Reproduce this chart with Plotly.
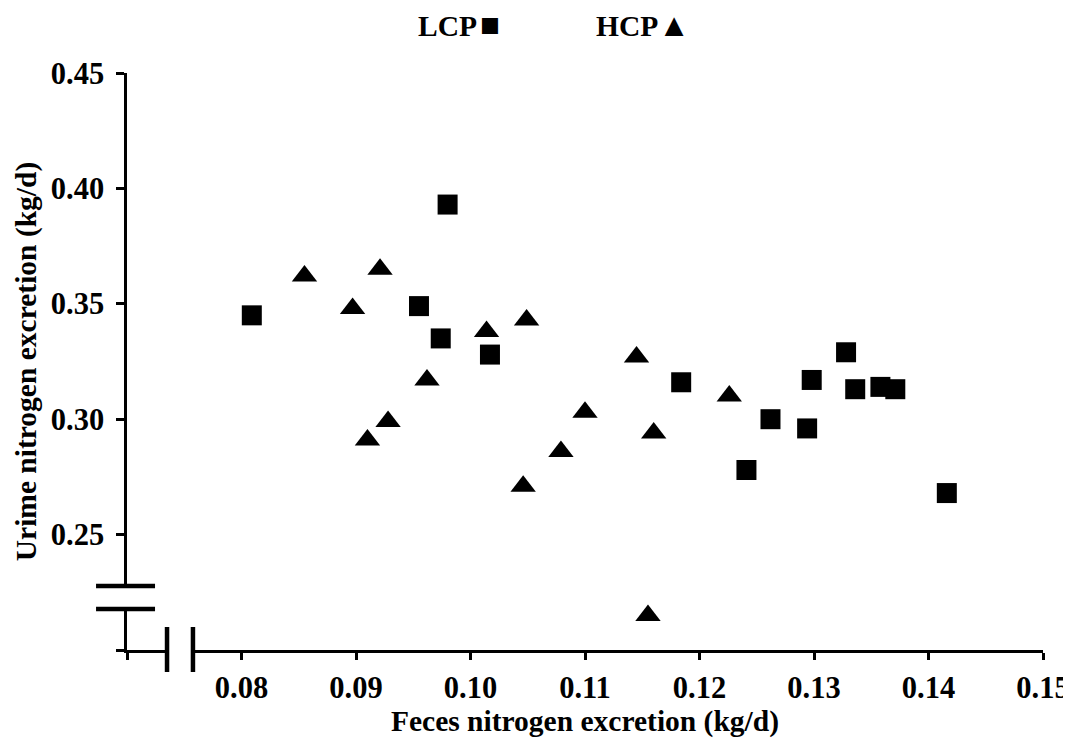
import plotly.graph_objects as go

# LCP (squares)
lcp_x = [0.0809, 0.0955, 0.0974, 0.0980, 0.1017, 0.1184, 0.1241, 0.1262, 0.1294,
         0.1298, 0.1328, 0.1336, 0.1358, 0.1371, 0.1416]
lcp_y = [0.345, 0.349, 0.335, 0.393, 0.328, 0.316, 0.278, 0.300, 0.296,
         0.317, 0.329, 0.313, 0.314, 0.313, 0.268]

# HCP (triangles)
hcp_x = [0.0855, 0.0897, 0.0910, 0.0921, 0.0928, 0.0962, 0.1014, 0.1046, 0.1049,
         0.1079, 0.1100, 0.1145, 0.1155, 0.1160, 0.1226]
hcp_y = [0.362, 0.348, 0.291, 0.365, 0.299, 0.317, 0.338, 0.271, 0.343,
         0.286, 0.303, 0.327, 0.215, 0.294, 0.310]

x_ticks = [0.07, 0.08, 0.09, 0.10, 0.11, 0.12, 0.13, 0.14, 0.15]
x_ticktext = ["", "0.08", "0.09", "0.10", "0.11", "0.12", "0.13", "0.14", "0.15"]
y_ticks = [0.20, 0.25, 0.30, 0.35, 0.40, 0.45]
y_ticktext = ["", "0.25", "0.30", "0.35", "0.40", "0.45"]

FONT = "Liberation Serif, Times New Roman, serif"
FS = 30.5
TFS = 29.5

fig = go.Figure()
fig.add_trace(go.Scatter(x=lcp_x, y=lcp_y, mode="markers", name="LCP",
                         marker=dict(symbol="square", size=20, color="black")))
fig.add_trace(go.Scatter(x=hcp_x, y=hcp_y, mode="markers", name="HCP",
                         marker=dict(symbol="triangle-up", size=22, color="black")))

axis_common = dict(showgrid=False, zeroline=False, showline=True, linecolor="black",
                   linewidth=2.5, ticks="outside", tickcolor="black", tickwidth=2.5,
                   automargin=False, ticklabeloverflow="allow",
                   tickfont=dict(family=FONT, size=FS, color="black", weight="bold"))

fig.update_xaxes(range=[0.07, 0.15], tickvals=x_ticks, ticktext=x_ticktext, ticklen=7,
                 ticklabelstandoff=2,
                 title=dict(text="Feces nitrogen excretion (kg/d)", standoff=1,
                            font=dict(family=FONT, size=TFS, color="black", weight="bold")),
                 **axis_common)
fig.update_yaxes(range=[0.20, 0.45], tickvals=y_ticks, ticktext=y_ticktext, ticklen=8,
                 ticklabelstandoff=6,
                 title=dict(text="Urime nitrogen excretion (kg/d)", standoff=6,
                            font=dict(family=FONT, size=TFS, color="black", weight="bold")),
                 **axis_common)

shapes = []
# y-axis break: white gap + two thick bars
shapes.append(dict(type="rect", xref="paper", yref="paper", x0=-0.008, x1=0.008,
                   y0=0.0711, y1=0.1109, fillcolor="white", line=dict(width=0), layer="above"))
for yy in (0.0711, 0.1109):
    shapes.append(dict(type="line", xref="paper", yref="paper", x0=-0.0338, x1=0.0306,
                       y0=yy, y1=yy, line=dict(color="black", width=4.5), layer="above"))
# x-axis break
shapes.append(dict(type="rect", xref="paper", yref="paper", x0=0.0437, x1=0.0720,
                   y0=-0.01, y1=0.01, fillcolor="white", line=dict(width=0), layer="above"))
for xx in (0.0437, 0.0720):
    shapes.append(dict(type="line", xref="paper", yref="paper", x0=xx, x1=xx,
                       y0=-0.0381, y1=0.0399, line=dict(color="black", width=4.5), layer="above"))

annotations = [
    dict(text="LCP<span style='font-size:12px'> </span><span style='font-size:33px'>■</span>",
         xref="paper", yref="paper", x=0.3624, y=1.083, xanchor="center",
         yanchor="middle", showarrow=False,
         font=dict(family=FONT, size=TFS, color="black", weight="bold")),
    dict(text="HCP<span style='font-size:32px'>▲</span>", xref="paper", yref="paper",
         x=0.5634, y=1.083, xanchor="center",
         yanchor="middle", showarrow=False,
         font=dict(family=FONT, size=TFS, color="black", weight="bold")),
]

# the page body adds an 8px offset, so the figure is 8px smaller and margins shifted
fig.update_layout(width=1063, height=732, margin=dict(l=119, r=28, t=65, b=90),
                  plot_bgcolor="white", paper_bgcolor="white", showlegend=False,
                  shapes=shapes, annotations=annotations,
                  font=dict(family=FONT, color="black"))

fig.write_html("out.html")
